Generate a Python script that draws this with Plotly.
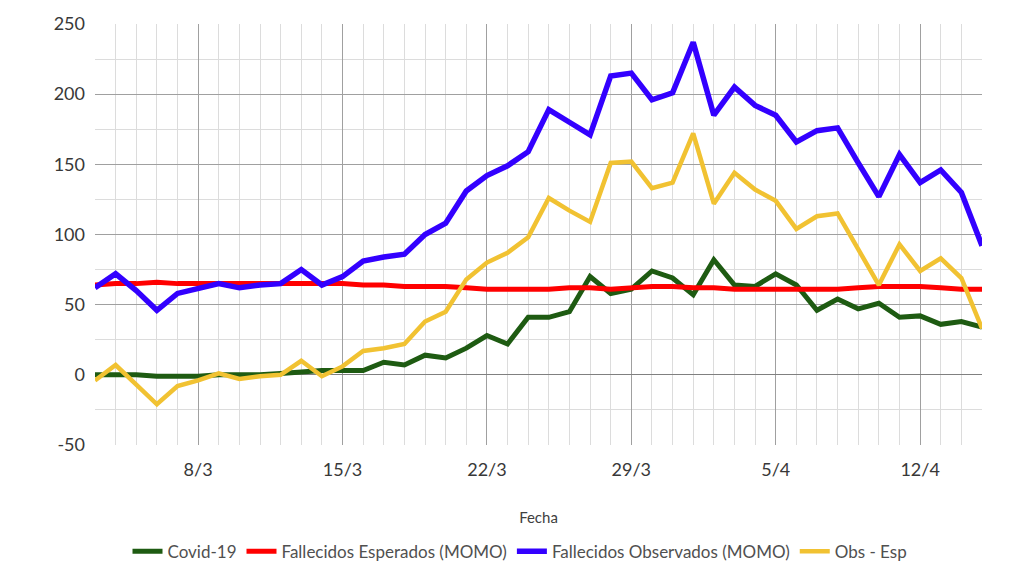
import plotly.graph_objects as go
import pandas as pd

# daily series, 3 March -> 15 April 2020
fechas = pd.date_range("2020-03-03", "2020-04-15", freq="D")

covid = [0, 0, 0, -1, -1, -1, 0, 0, 0, 1,
         2, 3, 3, 3, 9, 7, 14, 12, 19, 28,
         22, 41, 41, 45, 70, 58, 61, 74, 69,
         57, 82, 64, 63, 72, 64, 46, 54, 47, 51,
         41, 42, 36, 38, 34]

esperados = [64, 65, 65, 66, 65, 65, 65, 65, 65, 65,
             65, 65, 65, 64, 64, 63, 63, 63, 62, 61,
             61, 61, 61, 62, 62, 61, 62, 63, 63,
             62, 62, 61, 61, 61, 61, 61, 61, 62, 63,
             63, 63, 62, 61, 61]

observados = [62, 72, 60, 46, 58, 62, 65, 62, 64, 65,
              75, 64, 70, 81, 84, 86, 100, 108, 131, 142,
              149, 159, 189, 180, 171, 213, 215, 196, 201,
              237, 185, 205, 192, 185, 166, 174, 176, 151, 127,
              157, 137, 146, 130, 92]

obs_esp = [-4, 7, -7, -21, -8, -4, 1, -3, -1, 0,
           10, -1, 6, 17, 19, 22, 38, 45, 68, 80,
           87, 98, 126, 117, 109, 151, 152, 133, 137,
           172, 122, 144, 132, 124, 104, 113, 115, 89, 64,
           93, 74, 83, 69, 33]

y_ticks = [-50, 0, 50, 100, 150, 200, 250]
y_labels = ["-50", "0", "50", "100", "150", "200", "250"]

series = [
    ("Covid-19", covid, "#1e5b12", 5),
    ("Fallecidos Esperados (MOMO)", esperados, "#ff0000", 5),
    ("Fallecidos Observados (MOMO)", observados, "#3300ff", 5.5),
    ("Obs - Esp", obs_esp, "#f1c232", 4.5),
]

fig = go.Figure()

for name, vals, color, width in series:
    fig.add_trace(go.Scatter(
        x=fechas,
        y=vals,
        mode="lines",
        name=name,
        line=dict(color=color, width=width),
    ))

fig.update_xaxes(
    type="date",
    range=["2020-03-03", "2020-04-15"],
    tick0="2020-03-08",
    dtick=7 * 86400000,
    tickformat="%-d/%-m",
    showgrid=True,
    gridcolor="#a0a0a0",
    gridwidth=1,
    minor=dict(dtick=86400000, tick0="2020-03-03", showgrid=True,
               gridcolor="#dcdcdc", gridwidth=1),
    zeroline=False,
    showline=False,
    ticks="",
    ticklabelstandoff=12,
    tickfont=dict(size=18, color="#383838"),
    title=dict(text="Fecha", font=dict(size=15, color="#404040"), standoff=33),
    automargin=False,
)

fig.update_yaxes(
    range=[-50, 250],
    tickvals=y_ticks,
    ticktext=y_labels,
    showgrid=True,
    gridcolor="#a0a0a0",
    gridwidth=1,
    minor=dict(dtick=25, showgrid=True, gridcolor="#dcdcdc", gridwidth=1),
    zeroline=True,
    zerolinecolor="#808080",
    zerolinewidth=1,
    showline=False,
    ticks="",
    ticklabelstandoff=9,
    tickfont=dict(size=18, color="#383838"),
    automargin=False,
)

# page body adds an 8px offset, margins account for it
fig.update_layout(
    width=1024,
    height=576,
    paper_bgcolor="white",
    plot_bgcolor="white",
    font=dict(family="Lato, 'Open Sans', sans-serif"),
    margin=dict(l=87, r=50, t=16, b=139),
    showlegend=True,
    legend=dict(
        orientation="h",
        xref="container", x=0.5, xanchor="center",
        yref="container", y=0.056, yanchor="middle",
        font=dict(size=17, color="#505050"),
        itemwidth=30,
    ),
)

fig.write_html("out.html")
